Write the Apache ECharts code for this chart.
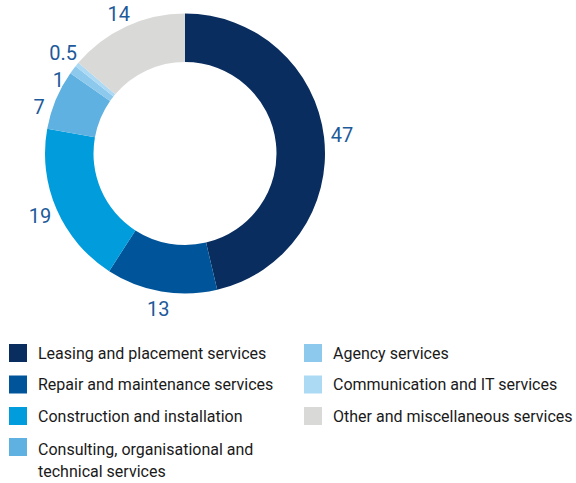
<!DOCTYPE html>
<html>
<head>
<meta charset="utf-8">
<script src="https://cdn.jsdelivr.net/npm/echarts@6/dist/echarts.min.js"></script>
<style>
  html, body { margin: 0; padding: 0; background: #fff; }
  #main { width: 576px; height: 483px; }
</style>
</head>
<body>
<div id="main"></div>
<script>
// data --->
const categories = [
	'Leasing and placement services',
	'Repair and maintenance services',
	'Construction and installation',
	'Consulting, organisational and technical services',
	'Agency services',
	'Communication and IT services',
	'Other and miscellaneous services'
];
const shares = [47, 13, 19, 7, 1, 0.5, 14];
const colors = ['#0a2d5f', '#00559a', '#009cdc', '#5eb1e0', '#8dc9ed', '#acd9f4', '#d9d9d8'];
// <--- data

const FONT = 'Roboto, sans-serif';
const CX = 185, CY = 153.5, R_IN = 91.5, R_OUT = 140;

const myChart = echarts.init(document.getElementById('main'), null, { renderer: 'svg' });

const total = shares.reduce((a, b) => a + b, 0);
// mid angle of each slice, clockwise from 12 o'clock
const midAngles = shares.map((v, i) => {
	const before = shares.slice(0, i).reduce((a, b) => a + b, 0);
	return (before + v / 2) / total * Math.PI * 2;
});

const legendBase = {
	orient: 'vertical',
	icon: 'rect',
	itemWidth: 18,
	itemHeight: 18,
	itemGap: 13.5,
	selectedMode: false,
	padding: 0,
	height: 140,
	textStyle: { fontFamily: FONT, fontSize: 16, color: '#1a1a1a', padding: [0, 0, 0, 6] }
};

const option = {
	animation: false,
	color: colors,
	legend: [
		Object.assign({}, legendBase, { left: 9, top: 344, data: categories.slice(0, 3) }),
		// two-line item: icon sits next to the first line
		Object.assign({}, legendBase, {
			left: 9, top: 438, itemHeight: 44,
			data: [{ name: categories[3], icon: 'path://M0,0H18V18H0Z M0,44' }],
			textStyle: Object.assign({}, legendBase.textStyle, { lineHeight: 22 }),
			formatter: () => 'Consulting, organisational and\ntechnical services'
		}),
		Object.assign({}, legendBase, { left: 304, top: 344, data: categories.slice(4) })
	],
	series: [{
		type: 'pie',
		center: [CX, CY],
		radius: [R_IN, R_OUT],
		startAngle: 90,
		clockwise: true,
		label: {
			show: true,
			position: 'inside',
			formatter: '{c}',
			fontFamily: FONT,
			fontSize: 20,
			lineHeight: 27,
			color: '#1d5a9a'
		},
		labelLine: { show: false },
		labelLayout: p => {
			const a = midAngles[p.dataIndex];
			const r = R_OUT + 18;
			return {
				x: CX + r * Math.sin(a),
				y: CY - r * Math.cos(a),
				align: 'center',
				verticalAlign: 'middle',
				moveOverlap: 'shiftY'
			};
		},
		data: categories.map((c, i) => ({ name: c, value: shares[i] }))
	}]
};

myChart.setOption(option);
</script>
</body>
</html>
